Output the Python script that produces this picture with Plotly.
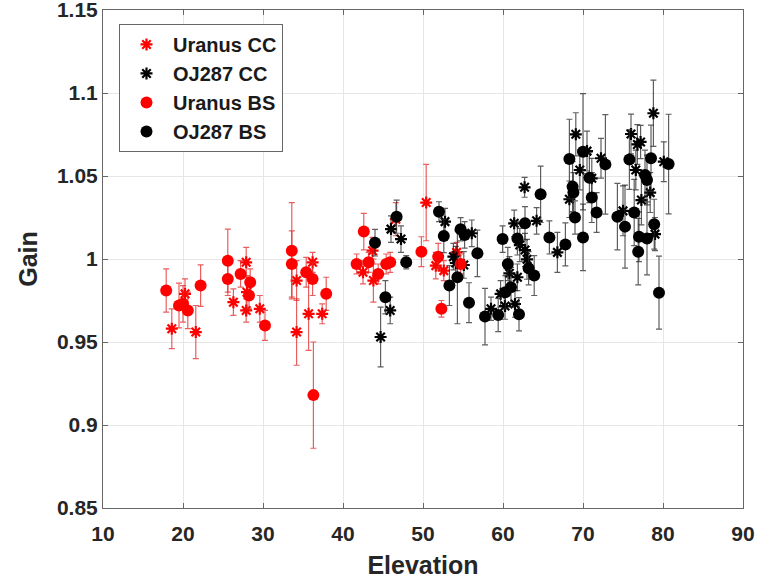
import plotly.graph_objects as go

# ---------------- data ----------------
uranus_cc_x = [18.6, 20.25, 21.6, 26.3, 27.9, 28.0, 27.9, 29.6, 34.2, 34.2, 35.7, 36.2, 37.4,
               42.5, 43.7, 43.8, 46.6, 50.4, 51.6, 52.6, 54.2]
uranus_cc_y = [0.958, 0.979, 0.956, 0.974, 0.998, 0.980, 0.969, 0.970, 0.987, 0.956, 0.967, 0.998, 0.967,
               0.992, 1.005, 0.987, 1.024, 1.034, 0.996, 0.993, 1.004]
uranus_cc_e = [0.012, 0.009, 0.016, 0.008, 0.009, 0.010, 0.007, 0.008, 0.012, 0.020, 0.022, 0.006, 0.006,
               0.007, 0.008, 0.013, 0.010, 0.023, 0.008, 0.006, 0.006]

oj287_cc_x = [44.7, 45.9, 46.0, 47.25, 52.75, 53.8, 54.1, 55.1, 56.1, 58.5, 59.7, 60.25, 60.8, 61.4,
              61.5, 61.8, 62.1, 62.7, 62.75, 63.0, 64.2, 66.8, 68.3, 69.1, 69.6, 70.5, 71.1, 72.25,
              75.0, 76.0, 76.6, 76.8, 77.2, 77.3, 78.4, 78.8, 79.0, 80.1]
oj287_cc_y = [0.953, 0.969, 1.018, 1.012, 1.0225, 1.0014, 0.9976, 0.9964, 1.0155, 0.970, 0.979, 0.9717,
              0.9914, 1.0215, 0.9729, 0.989, 1.0084, 1.0432, 1.0054, 0.9998, 1.023, 1.004, 1.036, 1.0751,
              1.0536, 1.065, 1.0486, 1.0607, 1.029, 1.0753, 1.0536, 1.069, 1.0705, 1.0355, 1.040, 1.0878,
              1.015, 1.0586]
oj287_cc_e = [0.018, 0.008, 0.008, 0.008, 0.008, 0.008, 0.010, 0.008, 0.008, 0.007, 0.008, 0.008,
              0.010, 0.008, 0.008, 0.008, 0.010, 0.006, 0.010, 0.012, 0.008, 0.012, 0.011, 0.013,
              0.012, 0.012, 0.012, 0.012, 0.015, 0.012, 0.012, 0.012, 0.010, 0.015, 0.012, 0.020,
              0.010, 0.012]

uranus_bs_x = [17.9, 19.5, 20.0, 20.6, 22.2, 25.6, 25.6, 27.2, 28.4, 28.25, 30.25, 33.6, 33.6, 35.4,
               36.2, 36.3, 37.9, 41.7, 42.6, 43.2, 44.4, 45.4, 45.9, 49.8, 51.9, 52.3, 54.7]
uranus_bs_y = [0.981, 0.972, 0.973, 0.969, 0.984, 0.999, 0.988, 0.991, 0.986, 0.978, 0.960, 1.005, 0.997,
               0.992, 0.988, 0.918, 0.979, 0.997, 1.0165, 0.998, 0.991, 0.997, 0.998, 1.0044, 1.0014,
               0.970, 0.997]
uranus_bs_e = [0.013, 0.0135, 0.011, 0.011, 0.0125, 0.019, 0.010, 0.008, 0.008, 0.008, 0.009, 0.029,
               0.020, 0.009, 0.010, 0.032, 0.010, 0.006, 0.011, 0.006, 0.006, 0.006, 0.006, 0.009,
               0.008, 0.005, 0.006]

oj287_bs_x = [44.0, 45.3, 46.7, 47.9, 52.0, 52.6, 53.3, 54.3, 54.7, 55.2, 55.75, 56.8, 57.75, 59.4,
              59.95, 60.3, 60.6, 61.0, 61.8, 62.0, 62.75, 63.2, 63.9, 64.7, 65.8, 67.8, 68.3, 68.7,
              68.8, 69.0, 70.0, 70.0, 70.8, 71.1, 71.7, 72.8, 74.3, 75.25, 75.8, 76.4, 76.9, 77.0,
              77.75, 78.0, 78.0, 78.5, 78.9, 79.5, 80.7]
oj287_bs_y = [1.0098, 0.977, 1.0255, 0.998, 1.0285, 1.0139, 0.984, 0.989, 1.0179, 1.0145, 0.9737,
              1.0034, 0.9653, 0.9663, 1.012, 0.980, 0.997, 0.983, 1.0124, 0.9667, 1.0215, 0.9944,
              0.990, 1.039, 1.013, 1.0088, 1.0602, 1.0436, 1.040, 1.025, 1.013, 1.0646, 1.049, 1.037,
              1.028, 1.057, 1.0255, 1.0195, 1.060, 1.028, 1.0044, 1.0134, 1.0506, 1.0476, 1.0124,
              1.0607, 1.021, 0.9797, 1.0572]
oj287_bs_e = [0.008, 0.010, 0.010, 0.004, 0.006, 0.010, 0.012, 0.028, 0.007, 0.008, 0.012, 0.014,
              0.017, 0.010, 0.008, 0.010, 0.010, 0.012, 0.010, 0.010, 0.010, 0.010, 0.012, 0.017,
              0.010, 0.013, 0.024, 0.015, 0.012, 0.010, 0.020, 0.035, 0.015, 0.015, 0.012, 0.030,
              0.020, 0.025, 0.018, 0.020, 0.020, 0.015, 0.015, 0.015, 0.022, 0.020, 0.015, 0.022,
              0.030]

x_ticks = [10, 20, 30, 40, 50, 60, 70, 80, 90]
y_ticks = [0.85, 0.9, 0.95, 1.0, 1.05, 1.1, 1.15]
y_tick_text = ["0.85", "0.9", "0.95", "1", "1.05", "1.1", "1.15"]

# ---------------- styles ----------------
RED = "#ff0000"
BLACK = "#000000"
RED_BAR = "rgba(225,40,40,0.75)"
BLACK_BAR = "rgba(40,40,40,0.75)"
FONT = "Liberation Sans, Arial, sans-serif"

fig = go.Figure()


def add_series(name, xs, ys, es, color, bar_color, symbol):
    if symbol == "star":
        marker = dict(symbol="asterisk-open", size=10, color=color,
                      line=dict(color=color, width=2.2))
    else:
        marker = dict(symbol="circle", size=12, color=color,
                      line=dict(color=color, width=0))
    fig.add_trace(go.Scatter(
        x=xs, y=ys, mode="markers", name=name, marker=marker,
        error_y=dict(type="data", array=es, visible=True, color=bar_color,
                     thickness=1.2, width=3),
    ))


add_series("Uranus CC", uranus_cc_x, uranus_cc_y, uranus_cc_e, RED, RED_BAR, "star")
add_series("OJ287 CC", oj287_cc_x, oj287_cc_y, oj287_cc_e, BLACK, BLACK_BAR, "star")
add_series("Uranus BS", uranus_bs_x, uranus_bs_y, uranus_bs_e, RED, RED_BAR, "circle")
add_series("OJ287 BS", oj287_bs_x, oj287_bs_y, oj287_bs_e, BLACK, BLACK_BAR, "circle")

axis_common = dict(
    showgrid=True, gridcolor="#e6e6e6", gridwidth=1,
    showline=True, linecolor="#666666", linewidth=1, mirror="ticks",
    ticks="inside", ticklen=5, tickcolor="#666666",
    zeroline=False, automargin=False, ticklabeloverflow="allow",
    tickfont=dict(family=FONT, size=21, color="#262626", weight="bold"),
)

fig.update_layout(
    template="none",
    width=762, height=579,
    margin=dict(l=103, r=19, t=10, b=71),
    paper_bgcolor="white", plot_bgcolor="white",
    showlegend=True,
    legend=dict(
        x=0.025, y=0.972, xanchor="left", yanchor="top",
        bgcolor="white", bordercolor="#666666", borderwidth=1,
        font=dict(family=FONT, size=20, color="#1a1a1a", weight="bold"),
        tracegroupgap=0, itemwidth=43,
    ),
    xaxis=dict(
        range=[10, 90], tickvals=x_ticks, ticklabelstandoff=7,
        title=dict(text="Elevation", standoff=18,
                   font=dict(family=FONT, size=25, color="#262626", weight="bold")),
        **axis_common,
    ),
    yaxis=dict(
        range=[0.85, 1.1500001], tickvals=y_ticks, ticktext=y_tick_text,
        title=dict(text="Gain", standoff=12,
                   font=dict(family=FONT, size=25, color="#262626", weight="bold")),
        **axis_common,
    ),
)

fig.write_html("out.html")
